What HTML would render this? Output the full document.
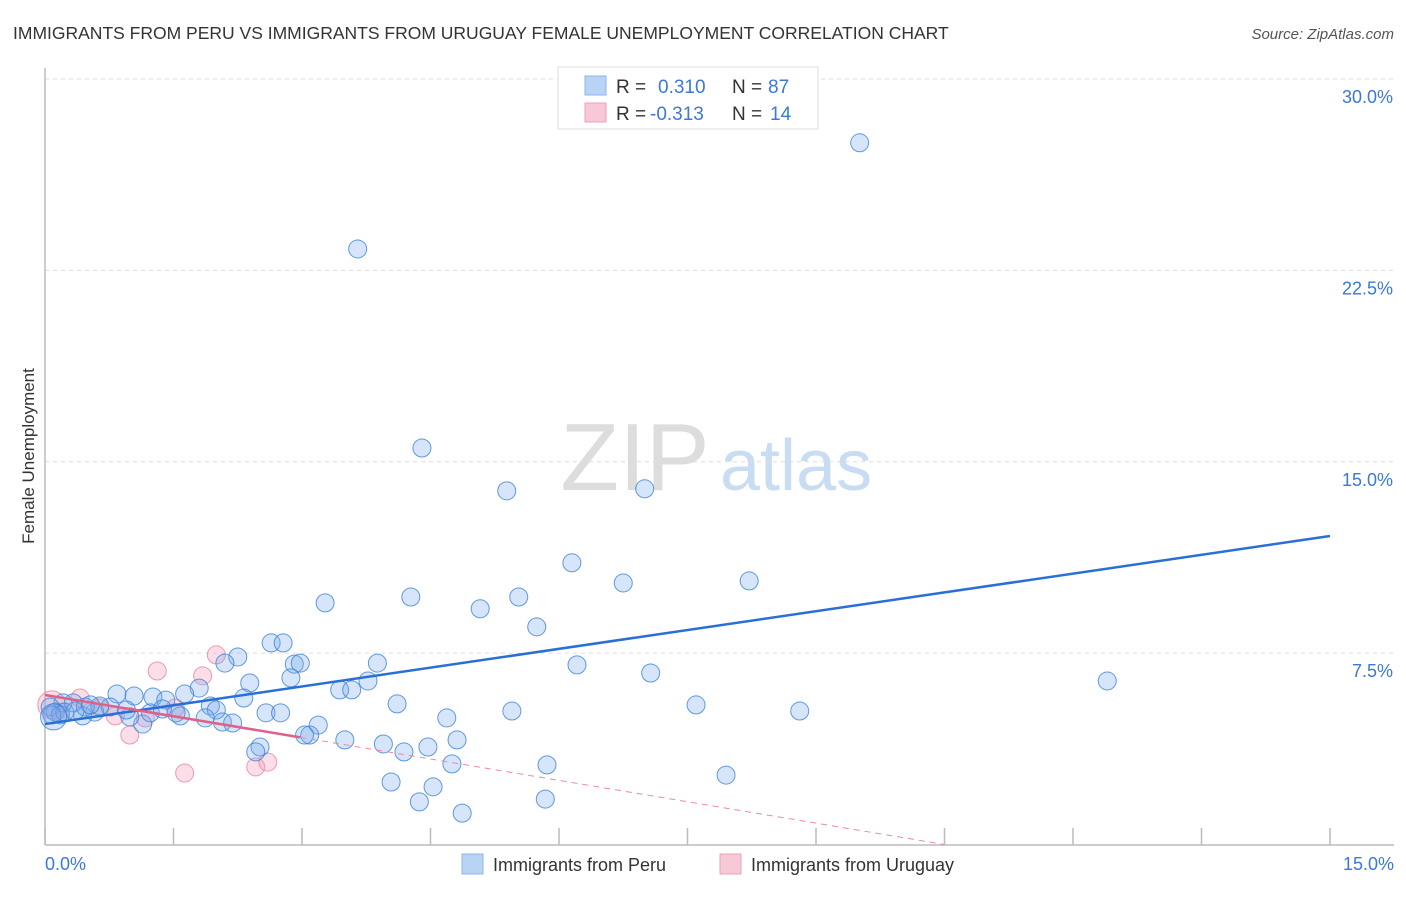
<!DOCTYPE html>
<html><head><meta charset="utf-8"><style>
body{margin:0;background:#fff;font-family:"Liberation Sans",sans-serif;}
svg text{font-family:"Liberation Sans",sans-serif;}
</style></head><body>
<svg id="chart" width="1406" height="892" xmlns="http://www.w3.org/2000/svg">
<text x="13" y="39" font-size="17.5" fill="#333">IMMIGRANTS FROM PERU VS IMMIGRANTS FROM URUGUAY FEMALE UNEMPLOYMENT CORRELATION CHART</text>
<text x="1394" y="39" font-size="15" fill="#555" font-style="italic" text-anchor="end">Source: ZipAtlas.com</text>
<text x="635" y="490" font-size="96" fill="#ddd" font-family="Liberation Serif" text-anchor="middle">ZIP</text>
<text x="720" y="490" font-size="72" fill="#c8dcf2">atlas</text>
<g id="grid"></g>
<g id="axes"></g>
<g id="points"></g>
<g id="lines"></g>
<text x="34" y="456" font-size="17" fill="#333" text-anchor="middle" transform="rotate(-90 34 456)">Female Unemployment</text>
<text x="45" y="870" font-size="18" fill="#3b78d8">0.0%</text>
<text x="1394" y="870" font-size="18" fill="#3b78d8" text-anchor="end">15.0%</text>
<g>
<rect x="558" y="67" width="260" height="62" fill="#fff" stroke="#ddd"/>
<rect x="585" y="76" width="21" height="19" fill="#b9d3f5" stroke="#8db4ea"/>
<rect x="585" y="103" width="21" height="19" fill="#f9c8d6" stroke="#f0a0b8"/>
<text x="616" y="93" font-size="19" fill="#333">R =</text><text x="658" y="93" font-size="19" fill="#3b78d8">0.310</text>
<text x="732" y="93" font-size="19" fill="#333">N =</text><text x="768" y="93" font-size="19" fill="#3b78d8">87</text>
<text x="616" y="120" font-size="19" fill="#333">R =</text><text x="650" y="120" font-size="19" fill="#3b78d8">-0.313</text>
<text x="732" y="120" font-size="19" fill="#333">N =</text><text x="770" y="120" font-size="19" fill="#3b78d8">14</text>
</g>
<g>
<rect x="462" y="854" width="21" height="20" fill="#b9d3f5" stroke="#8db4ea"/>
<text x="493" y="871" font-size="18" fill="#333">Immigrants from Peru</text>
<rect x="720" y="854" width="21" height="20" fill="#f9c8d6" stroke="#f0a0b8"/>
<text x="751" y="871" font-size="18" fill="#333">Immigrants from Uruguay</text>
</g>
</svg>
<script>
const yTicks=[7.5,15,22.5,30];
const yTickLabels=["7.5%","15.0%","22.5%","30.0%"];
const xTicks=[0,1.5,3,4.5,6,7.5,9,10.5,12,13.5,15];
const peruX=[9.51,3.65,4.40,5.39,7.00,6.15,6.75,8.22,3.27,4.27,5.53,5.08,5.74,2.64,2.78,2.25,2.10,2.91,2.98,3.88,2.87,2.39,6.21,7.07,12.40,3.77,3.44,3.58,1.80,1.63,0.84,1.04,1.26,1.41,2.32,4.11,5.45,7.60,8.81,1.93,2.00,2.58,2.75,3.19,4.69,2.07,2.19,1.87,1.58,1.53,1.14,0.99,0.76,0.58,0.44,0.33,0.21,0.12,0.06,0.18,3.09,3.03,3.50,4.81,3.95,4.47,4.19,2.51,2.46,4.75,5.86,4.04,4.53,7.95,4.37,5.84,4.87,0.64,0.95,1.23,1.37,0.47,0.23,0.35,0.08,0.53,0.10];
const peruY=[27.50,23.34,15.54,13.86,13.94,11.04,10.25,10.33,9.47,9.70,9.70,9.24,8.53,7.90,7.90,7.35,7.11,7.07,7.11,7.11,6.53,6.33,7.04,6.72,6.41,6.41,6.06,6.06,6.13,5.90,5.90,5.82,5.78,5.66,5.74,5.51,5.23,5.47,5.23,5.43,5.27,5.16,5.16,4.68,4.96,4.80,4.76,4.96,5.04,5.16,4.72,5.00,5.39,5.19,5.04,5.55,5.55,5.19,5.39,5.08,4.29,4.29,4.10,4.10,3.94,3.82,3.63,3.82,3.63,3.16,3.12,2.45,2.26,2.72,1.67,1.78,1.23,5.43,5.27,5.16,5.31,5.39,5.19,5.23,5.08,5.47,5.00];
const uruX=[0.08,0.41,0.18,0.82,1.17,1.31,2.00,1.84,1.52,0.99,1.63,2.46,2.60,0.64];
const uruY=[5.47,5.74,5.19,5.04,4.96,6.80,7.43,6.61,5.35,4.29,2.80,3.04,3.23,5.35];
const peruLine=[[0,4.72],[15,12.09]];
const uruLine=[[0,5.86],[2.98,4.2]];
const uruDash=[[2.98,4.2],[10.5,0]];

const NS="http://www.w3.org/2000/svg";
const X0=45,X1=1330,Y0=844.5,YT=79;
const sx=v=>X0+(v-0)/15*(X1-X0);
const sy=v=>Y0-v/30*(Y0-YT);
function mk(tag,attrs,parent){const e=document.createElementNS(NS,tag);for(const k in attrs)e.setAttribute(k,attrs[k]);document.getElementById(parent).appendChild(e);return e;}
yTicks.forEach((t,i)=>{
 const l=mk('line',{x1:45,x2:1394,y1:sy(t),y2:sy(t),stroke:'#ddd','stroke-dasharray':'4,4'},'grid');
 
 
 const tx=mk('text',{x:1393,y:sy(t)+24,'font-size':18,fill:'#3b78d8','text-anchor':'end'},'grid');
 tx.textContent=yTickLabels[i];
 
 
});
const ya=mk('line',{x1:45,x2:45,y1:68,y2:845,stroke:'#bbb','stroke-width':1.5},'axes');


const xa=mk('line',{x1:45,x2:1394,y1:845,y2:845,stroke:'#bbb','stroke-width':1.5},'axes');


xTicks.forEach(t=>{
 const l=mk('line',{x1:sx(t),x2:sx(t),y1:828,y2:845,stroke:'#bbb','stroke-width':1.5},'axes');
 
 
});
uruX.forEach((v,i)=>{
 const c=mk('circle',{cx:sx(v),cy:sy(uruY[i]),r:i===0?14:9,fill:'rgba(244,160,185,0.35)',stroke:'rgba(235,130,160,0.8)','stroke-width':1},'points');
 
 
});
peruX.forEach((v,i)=>{
 const c=mk('circle',{cx:sx(v),cy:sy(peruY[i]),r:i===peruX.length-1?13:9,fill:'rgba(120,170,235,0.3)',stroke:'rgba(60,130,215,0.8)','stroke-width':1},'points');
 
 
});
const pl=mk('line',{x1:sx(peruLine[0][0]),y1:sy(peruLine[0][1]),x2:sx(peruLine[1][0]),y2:sy(peruLine[1][1]),stroke:'#2a6fd6','stroke-width':2.5},'lines');


const ul=mk('line',{x1:sx(uruLine[0][0]),y1:sy(uruLine[0][1]),x2:sx(uruLine[1][0]),y2:sy(uruLine[1][1]),stroke:'#e0608a','stroke-width':2.5},'lines');


const ud=mk('line',{x1:sx(uruDash[0][0]),y1:sy(uruDash[0][1]),x2:sx(uruDash[1][0]),y2:sy(uruDash[1][1]),stroke:'#e88aa8','stroke-width':1,'stroke-dasharray':'6,5'},'lines');


</script>
</body></html>
